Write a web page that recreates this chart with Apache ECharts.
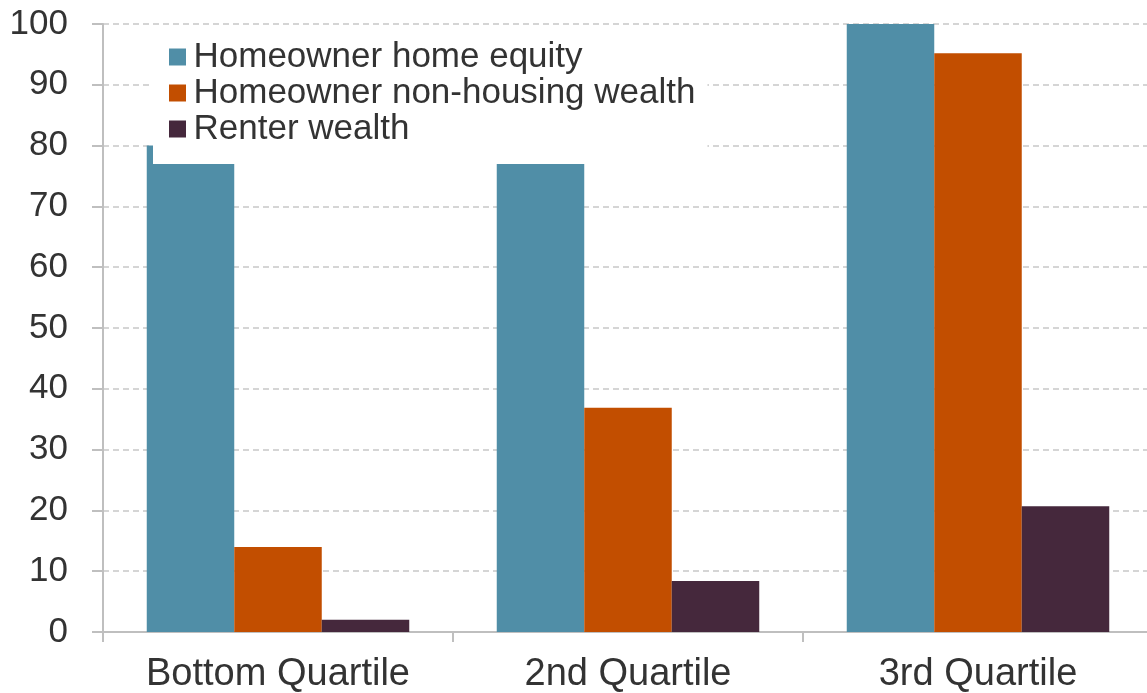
<!DOCTYPE html>
<html>
<head>
<meta charset="utf-8">
<script src="https://cdn.jsdelivr.net/npm/echarts@6/dist/echarts.min.js"></script>
<style>
html,body{margin:0;padding:0;background:#fff;}
#chart{width:1147px;height:693px;}
</style>
</head>
<body>
<div id="chart"></div>
<script>
const categories = ['Bottom Quartile', '2nd Quartile', '3rd Quartile'];
const seriesNames = ['Homeowner home equity', 'Homeowner non-housing wealth', 'Renter wealth'];
const homeEquity = [80, 88, 100];
const nonHousing = [14, 36.9, 95.2];
const renter = [2, 8.4, 20.7];
const yTicks = [0, 10, 20, 30, 40, 50, 60, 70, 80, 90, 100];
const colors = ['#508EA7', '#C24E00', '#45283C'];

const chart = echarts.init(document.getElementById('chart'), null, {renderer: 'canvas'});
const font = 'Liberation Sans, Arial, sans-serif';
const values = [homeEquity, nonHousing, renter];

chart.setOption({
  animation: false,
  textStyle: {fontFamily: font},
  grid: {left: 103, top: 24, width: 1050, height: 608, containLabel: false, outerBoundsMode: 'none'},
  legend: {
    orient: 'vertical',
    left: 153,
    top: 29,
    padding: [10, 12, 17, 16],
    backgroundColor: '#ffffff',
    itemGap: 0,
    itemWidth: 22,
    itemHeight: 17,
    icon: 'path://M0,0h10v10h-10z',
    textStyle: {fontSize: 35, color: '#333', fontFamily: font, lineHeight: 36},
    data: seriesNames,
    z: 10
  },
  xAxis: {
    type: 'category',
    data: categories,
    axisLine: {lineStyle: {color: '#bfbfbf', width: 2}},
    axisTick: {show: true, length: 10, lineStyle: {color: '#bfbfbf', width: 2}},
    axisLabel: {fontSize: 38, color: '#333', fontFamily: font, margin: 24}
  },
  yAxis: {
    type: 'value',
    min: 0,
    max: 100,
    interval: 10,
    axisLine: {show: true, lineStyle: {color: '#bfbfbf', width: 2}},
    axisTick: {show: true, length: 11, lineStyle: {color: '#bfbfbf', width: 2}},
    axisLabel: {fontSize: 35, color: '#333', fontFamily: font, margin: 35,
      formatter: v => yTicks.includes(v) ? String(v) : ''},
    splitLine: {lineStyle: {color: '#c8c8c8', type: [6, 4], width: 1.5}}
  },
  series: seriesNames.map((name, i) => ({
    name: name,
    type: 'bar',
    data: values[i],
    barGap: '0%',
    barCategoryGap: '25%',
    itemStyle: {color: colors[i]},
    z: 2
  }))
});
</script>
</body>
</html>
